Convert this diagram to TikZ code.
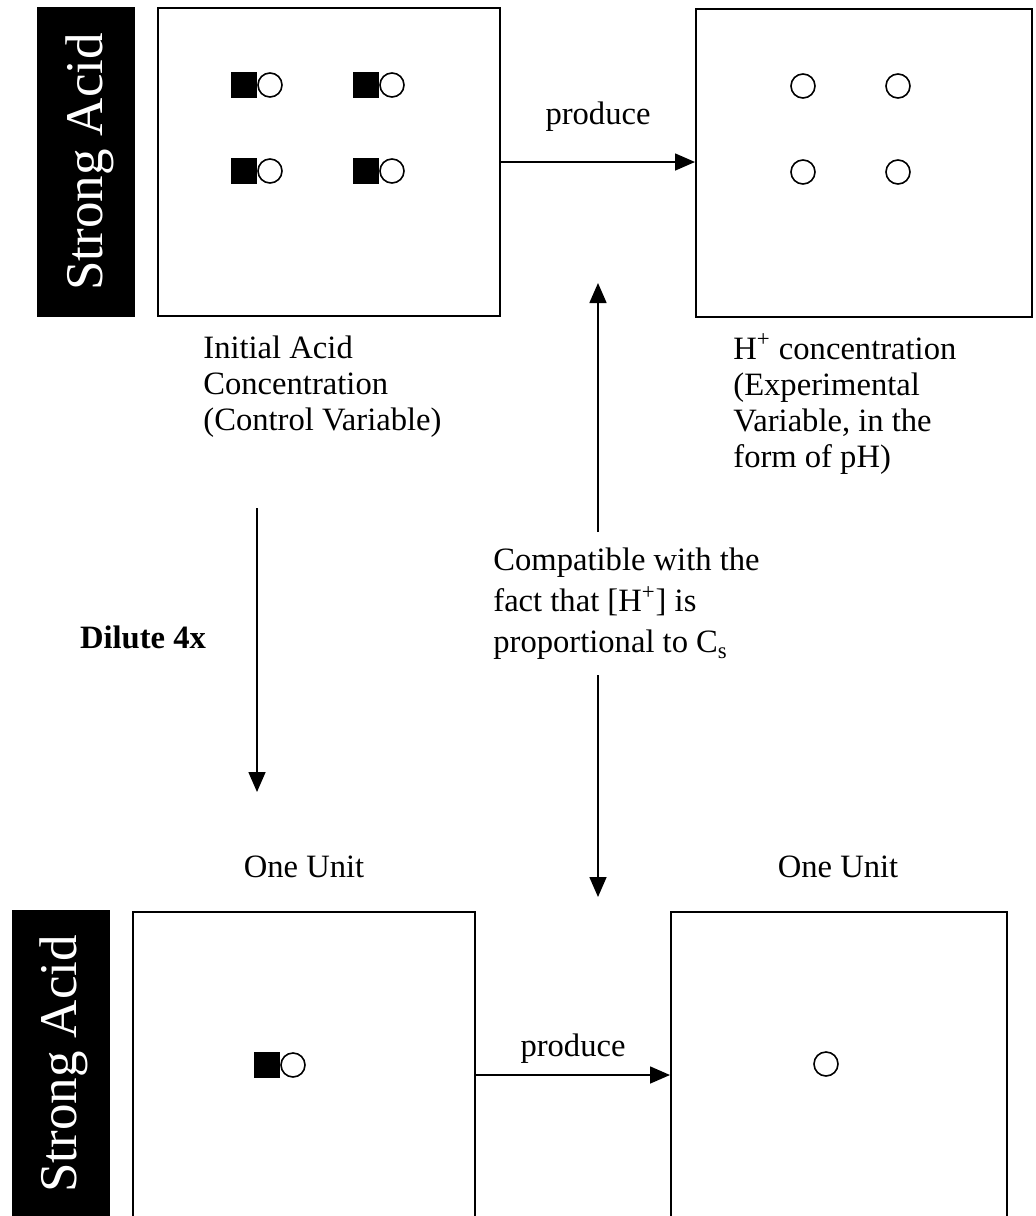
\documentclass[tikz,border=0pt]{standalone}
\usepackage{fontspec}
\setmainfont{Liberation Serif}
\usetikzlibrary{arrows.meta}

\begin{document}
\begin{tikzpicture}[x=0.5pt,y=-0.5pt]
\tikzset{every node/.style={font=\fontsize{16.3}{18}\selectfont},
  panel/.style={draw, line width=1pt, inner sep=0pt},
  acidbar/.style={fill=black, text=white, rotate=90, inner sep=0pt,
    minimum height=49pt, text depth=2pt, font=\fontsize{26.5}{30}\selectfont},
  anion/.style={fill=black, minimum size=13pt, inner sep=0pt},
  proton/.style={draw, circle, line width=0.8pt, minimum size=12pt, inner sep=0pt},
  label/.style={align=left, inner sep=0pt},
  arrow/.style={-{Triangle[length=10pt,width=8.5pt]}, line width=0.8pt}}

\useasboundingbox (0,0) rectangle (1036,1216);

% Side bars
\node[acidbar, minimum width=155pt] at (86,162) (barA) {Strong Acid};
\node[acidbar, minimum width=154pt] at (60.5,1064) (barB) {Strong Acid};

% Boxes
\node[panel, minimum width=171pt, minimum height=154pt] at (329,162) (acidA) {};
\node[panel, minimum width=168pt, minimum height=154pt] at (864,163) (ionsA) {};
\node[panel, minimum width=171pt, minimum height=153pt] at (304,1065) (acidB) {};
\node[panel, minimum width=168pt, minimum height=153pt] at (839,1065) (ionsB) {};

% Acid particles, before dilution
\node[anion] at (244,85) (aA1) {};
\node[proton] at (270,85) (pA1) {};
\node[anion] at (366,85) (aA2) {};
\node[proton] at (392,85) (pA2) {};
\node[anion] at (244,171) (aA3) {};
\node[proton] at (270,171) (pA3) {};
\node[anion] at (366,171) (aA4) {};
\node[proton] at (392,171) (pA4) {};

% Free protons, before dilution
\node[proton] at (803,86) (hA1) {};
\node[proton] at (898,86) (hA2) {};
\node[proton] at (803,172) (hA3) {};
\node[proton] at (898,172) (hA4) {};

% After dilution
\node[anion] at (267,1065) (aB1) {};
\node[proton] at (293,1065) (pB1) {};
\node[proton] at (826,1064) (hB1) {};

% Labels
\node[label, anchor=west] at (203,387) (initLbl) {Initial Acid\\Concentration\\(Control Variable)};
\node[label, anchor=west] at (733,404) (hLbl) {H\textsuperscript{+} concentration\\(Experimental\\Variable, in the\\form of pH)};
\node[label, anchor=west, font={\fontsize{16.3}{20.5}\selectfont}] at (493,604) (compat) {Compatible with the\\fact that [H\textsuperscript{+}] is\\proportional to C\textsubscript{s}};
\node[font={\fontsize{16.3}{18}\selectfont\bfseries}] at (143,637) (dilute) {Dilute 4x};
\node at (598,117) (prodA) {produce};
\node at (573,1049) (prodB) {produce};
\node at (304,867) (unitA) {One Unit};
\node at (838,867) (unitB) {One Unit};

% Free ends
\coordinate (dilTop) at (257,508);
\coordinate (dilTip) at (257,792);
\coordinate (upFoot) at (598,532);
\coordinate (upTip) at (598,283);
\coordinate (downFoot) at (598,675);
\coordinate (downTip) at (598,897);

% Arrows
\draw[arrow] (acidA.east) -- (acidA.east -| ionsA.west);
\draw[arrow] ([yshift=-5pt]acidB.east) -- ([yshift=-5pt]acidB.east -| ionsB.west);
\draw[arrow] (dilTop) -- (dilTip);
\draw[arrow] (upFoot) -- (upTip);
\draw[arrow] (downFoot) -- (downTip);
\end{tikzpicture}
\end{document}
